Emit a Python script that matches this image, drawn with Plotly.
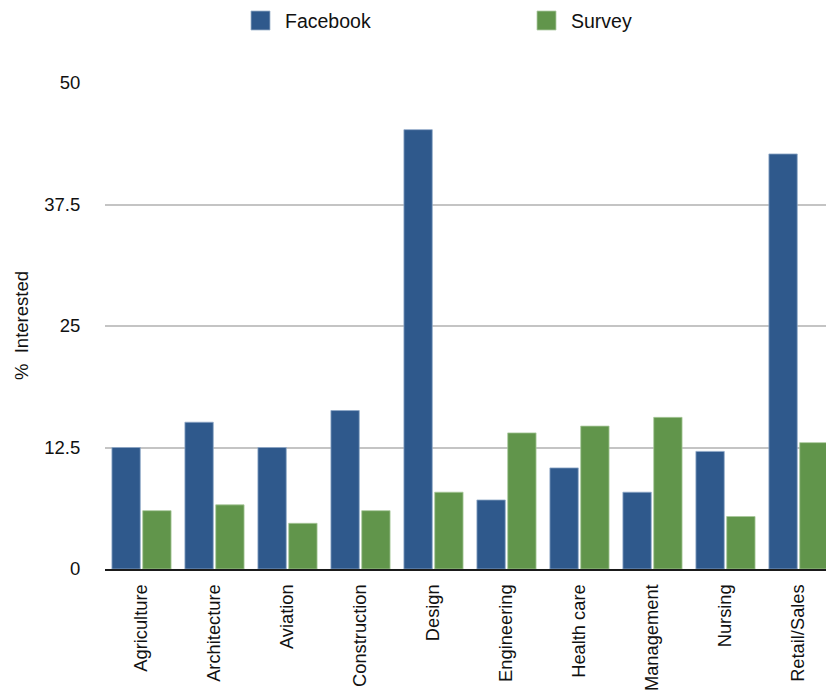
import plotly.graph_objects as go

categories = ["Agriculture", "Architecture", "Aviation", "Construction", "Design",
              "Engineering", "Health care", "Management", "Nursing", "Retail/Sales"]
facebook = [12.5, 15.1, 12.5, 16.3, 45.2, 7.1, 10.4, 7.9, 12.1, 42.7]
survey = [6.0, 6.6, 4.7, 6.0, 7.9, 14.0, 14.7, 15.6, 5.4, 13.0]
series_names = ["Facebook", "Survey"]
series_colors = ["#2F598C", "#61954B"]
y_ticks = [0, 12.5, 25, 37.5, 50]
y_tick_text = ["0", "12.5", "25", "37.5", "50"]
y_title = "%\u00a0\u00a0Interested"

FONT = "Liberation Sans, Arial, Helvetica, sans-serif"
W, H = 826, 696
L, R, T, B = 105, 0, 83, 127
PW, PH = W - L - R, H - T - B

fig = go.Figure()
fig.add_trace(go.Bar(name=series_names[0], x=categories, y=facebook, showlegend=False,
                     marker=dict(color=series_colors[0], line=dict(color="#8FA8C8", width=0.8))))
fig.add_trace(go.Bar(name=series_names[1], x=categories, y=survey, showlegend=False,
                     marker=dict(color=series_colors[1], line=dict(color="#A8C89A", width=0.8))))

# Manual legend (large square swatches like the reference)
legend_x = [251, 537]
for name, color, lx in zip(series_names, series_colors, legend_x):
    fig.add_shape(type="rect", xref="paper", yref="paper",
                  x0=(lx - L) / PW, x1=(lx + 19 - L) / PW,
                  y0=1 + (T - 30) / PH, y1=1 + (T - 11) / PH,
                  fillcolor=color, line=dict(color="#9FB4CC" if name == "Facebook" else "#B0CCA4", width=0.8))
    fig.add_annotation(text=name, xref="paper", yref="paper",
                       x=(lx + 32 - L) / PW, y=1 + (T - 21) / PH,
                       xanchor="left", yanchor="middle", showarrow=False,
                       font=dict(size=19.5, family=FONT, color="#111111"))

# Y axis title
fig.add_annotation(text=y_title, xref="paper", yref="paper",
                   x=(21 - L) / PW, y=0.5, textangle=-90,
                   xanchor="center", yanchor="middle", showarrow=False,
                   font=dict(size=18.5, family=FONT, color="#111111"))

fig.update_layout(
    width=W, height=H,
    margin=dict(l=L, r=R, t=T, b=B),
    paper_bgcolor="white", plot_bgcolor="white",
    font=dict(family=FONT, size=18, color="#111111"),
    barmode="group", bargap=0.156, bargroupgap=0.08,
    xaxis=dict(range=[-0.5, 9.377], tickangle=-90, showgrid=False,
               showline=True, linecolor="#1a1a1a", linewidth=2,
               ticks="", ticklabelstandoff=6, tickfont=dict(size=18.3)),
    yaxis=dict(range=[0, 50], tickvals=y_ticks, ticktext=y_tick_text,
               showgrid=True, gridcolor="#C4C4C4", gridwidth=1.5,
               zeroline=False, showline=False,
               ticks="outside", ticklen=20, tickcolor="rgba(0,0,0,0)",
               tickfont=dict(size=18.5)),
)

fig.write_html("out.html")
